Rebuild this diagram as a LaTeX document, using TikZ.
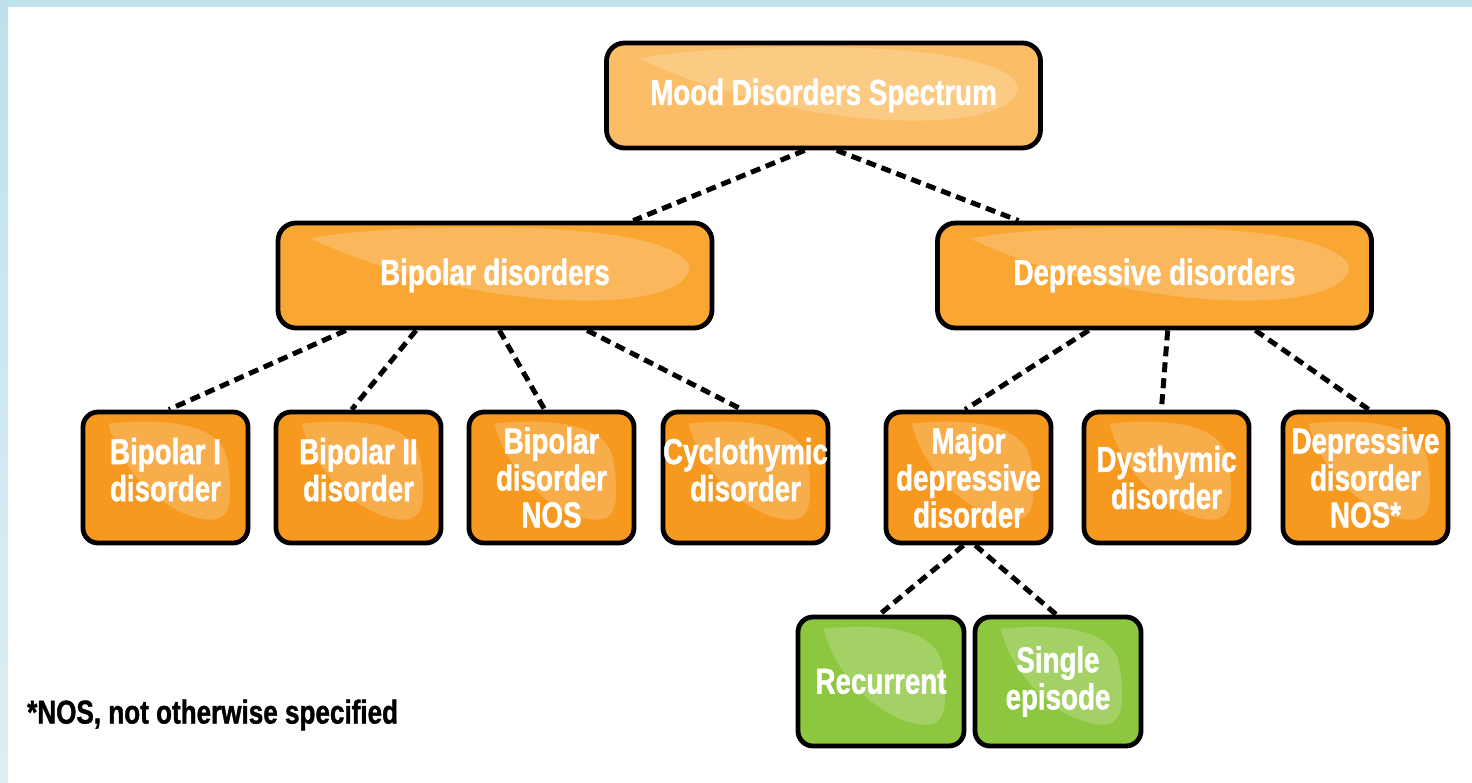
\documentclass[tikz,border=0pt]{standalone}
\usepackage{fontspec}
\newfontfamily\cf{Liberation Sans}[FakeStretch=0.77,FakeBold=1.2]
\newfontfamily\cfn{Liberation Sans}[FakeStretch=0.79,FakeBold=1.2]
\usetikzlibrary{calc}
\pgfdeclarelayer{bg}
\pgfsetlayers{bg,main}
\definecolor{topfill}{HTML}{FBBE66}
\definecolor{midfill}{HTML}{F9A632}
\definecolor{lowfill}{HTML}{F7991F}
\definecolor{grnfill}{HTML}{8DC63F}
\definecolor{frameblue}{HTML}{BFE1EB}
\definecolor{frameblue2}{HTML}{DDEFF4}
\newcommand\leafwide[1]{\fill[leaf,shift={(#1.north west)}] (35,18) .. controls (110,2) and (400,-5) .. (414,47) .. controls (410,95) and (200,95) .. (35,18);}
\newcommand\leafsmall[1]{\fill[leaf,shift={(#1.north west)}] (28,14) .. controls (90,8) and (142,15) .. (147,52) .. controls (152,88) and (152,112) .. (127,110) .. controls (85,106) and (40,62) .. (28,14);}
\begin{document}
\begin{tikzpicture}[x=1pt,y=-1pt,
  box/.style={draw=black, line width=4.8pt, inner sep=0pt, align=center, text=white,
    font=\cf\bfseries\fontsize{36}{37}\selectfont},
  widebox/.style={box, minimum width=434pt, minimum height=105pt, rounded corners=18pt},
  smallbox/.style={box, minimum width=165pt, minimum height=131pt, rounded corners=15pt, fill=lowfill},
  grnbox/.style={box, minimum width=166pt, minimum height=129pt, rounded corners=15pt, fill=grnfill},
  raised/.style={text depth=16pt},
  link/.style={draw=black, line width=5pt, dash pattern=on 10pt off 6pt},
  leaf/.style={fill=white, fill opacity=0.2},
  note/.style={anchor=west, inner sep=0pt, text=black, font=\cfn\bfseries\fontsize{33}{35}\selectfont}]
\useasboundingbox (0,0) rectangle (1472,783);

\node[widebox, fill=topfill] (top) at (823.5,95.5) {Mood Disorders Spectrum};
\node[widebox, fill=midfill] (bip) at (495,275.5) {Bipolar disorders};
\node[widebox, fill=midfill] (dep) at (1154.5,275.5) {Depressive disorders};

\node[smallbox, raised] (b1) at (165.5,477.5) {Bipolar I\\disorder};
\node[smallbox, raised] (b2) at (358.5,477.5) {Bipolar II\\disorder};
\node[smallbox] (bn) at (551.5,477.5) {Bipolar\\disorder\\NOS};
\node[smallbox, raised] (cy) at (745.5,477.5) {Cyclothymic\\disorder};
\node[smallbox] (mdd) at (968.5,477.5) {Major\\depressive\\disorder};
\node[smallbox] (dy) at (1166.5,477.5) {Dysthymic\\disorder};
\node[smallbox] (dn) at (1365.5,477.5) {Depressive\\disorder\\NOS*};

\node[grnbox] (rec) at (881,681.5) {Recurrent};
\node[grnbox] (sin) at (1058,681.5) {Single\\episode};

\node[note] (fn) at (27,715) {*NOS, not otherwise specified};

\leafwide{top}
\leafwide{bip}
\leafwide{dep}
\leafsmall{b1}
\leafsmall{b2}
\leafsmall{bn}
\leafsmall{cy}
\leafsmall{mdd}
\leafsmall{dy}
\leafsmall{dn}
\leafsmall{rec}
\leafsmall{sin}

\begin{pgfonlayer}{bg}
\fill[white] (0,0) rectangle (1472,783);
\shade[top color=frameblue, bottom color=frameblue2] (0,0) rectangle (8,783);
\fill[frameblue] (0,0) rectangle (1472,7);
\draw[link] ($(top.south west)!0.457!(top.south east)$) -- ($(bip.north west)!0.815!(bip.north east)$);
\draw[link] ($(top.south west)!0.53!(top.south east)$) -- ($(dep.north west)!0.19!(dep.north east)$);
\draw[link] ($(bip.south west)!0.16!(bip.south east)$) -- ($(b1.north west)!0.52!(b1.north east)$);
\draw[link] ($(bip.south west)!0.32!(bip.south east)$) -- ($(b2.north west)!0.46!(b2.north east)$);
\draw[link] ($(bip.south west)!0.51!(bip.south east)$) -- ($(bn.north west)!0.46!(bn.north east)$);
\draw[link] ($(bip.south west)!0.71!(bip.south east)$) -- ($(cy.north west)!0.48!(cy.north east)$);
\draw[link] ($(dep.south west)!0.35!(dep.south east)$) -- ($(mdd.north west)!0.48!(mdd.north east)$);
\draw[link] ($(dep.south west)!0.53!(dep.south east)$) -- ($(dy.north west)!0.47!(dy.north east)$);
\draw[link] ($(dep.south west)!0.73!(dep.south east)$) -- ($(dn.north west)!0.52!(dn.north east)$);
\draw[link] ($(mdd.south west)!0.47!(mdd.south east)$) -- ($(rec.north west)!0.49!(rec.north east)$);
\draw[link] ($(mdd.south west)!0.54!(mdd.south east)$) -- ($(sin.north west)!0.49!(sin.north east)$);
\end{pgfonlayer}
\end{tikzpicture}
\end{document}
